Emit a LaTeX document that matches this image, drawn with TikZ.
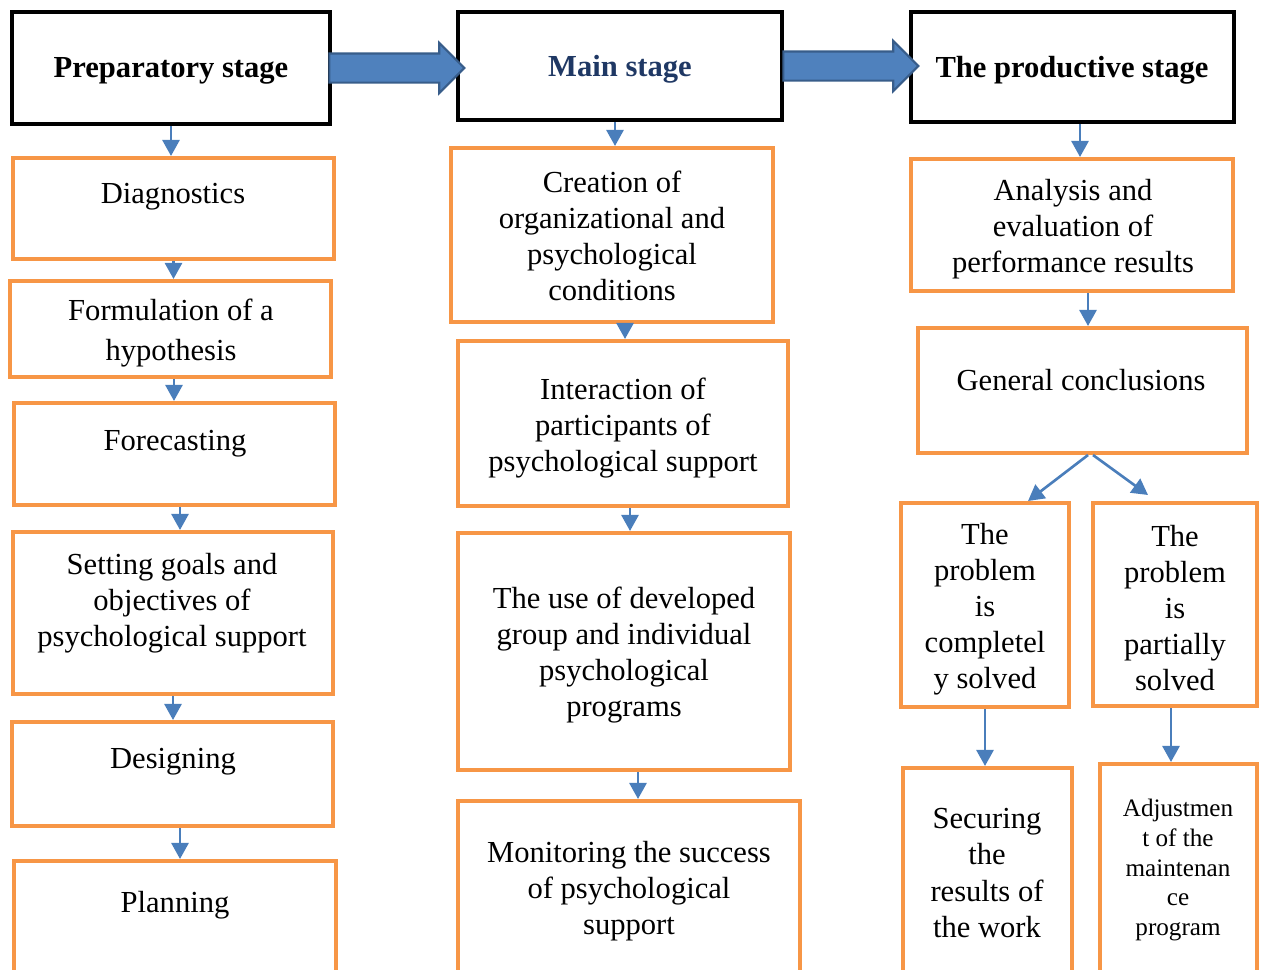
\documentclass[tikz,border=0pt]{standalone}
\usepackage{fontspec}
\setmainfont{Liberation Serif}
\usetikzlibrary{arrows.meta,shapes.arrows}
\definecolor{boxorange}{HTML}{F79646}
\definecolor{flowblue}{HTML}{4A7EBB}
\definecolor{bigblue}{HTML}{4F81BD}
\definecolor{bigedge}{HTML}{385D8A}
\definecolor{titleblue}{HTML}{1F3864}
\tikzset{
  stagebox/.style={draw=black, line width=2.6pt, rectangle, inner sep=0pt},
  obox/.style={draw=boxorange, line width=2.3pt, rectangle, inner sep=0pt},
  txt/.style={align=center, inner sep=0pt, font=\fontsize{17.4}{20.5}\selectfont},
  smalltxt/.style={align=center, inner sep=0pt, font=\fontsize{14.3}{17}\selectfont},
  title/.style={inner sep=0pt, font=\fontsize{17.4}{20.5}\selectfont\bfseries},
  flow/.style={draw=flowblue, line width=1.5pt, -{Triangle[length=3.2mm,width=3.4mm]}},
  bigarrow/.style={single arrow, draw=bigedge, fill=bigblue, line width=1.2pt,
    inner xsep=0pt, inner ysep=2.7mm, single arrow head extend=2.1mm, minimum height=27mm}
}
\begin{document}
\begin{tikzpicture}[x=0.2mm,y=-0.2mm]
\useasboundingbox (0,0) rectangle (1262,969);
%% stage headers
\node[stagebox, minimum width=63.6mm, minimum height=22.4mm] (prep) at (171,68) {};
\node[stagebox, minimum width=64.8mm, minimum height=21.6mm] (main) at (620,66) {};
\node[stagebox, minimum width=64.6mm, minimum height=22mm] (prod) at (1072.5,67) {};
\node[title] (prep-t) at (171,71) {Preparatory stage};
\node[title, text=titleblue] (main-t) at (620,69) {Main stage};
\node[title] (prod-t) at (1072,70) {The productive stage};
\node[bigarrow, anchor=tail] (go1) at ([xshift=-0.8mm]prep.east) {};
\node[bigarrow, anchor=tail] (go2) at ([xshift=-0.4mm]main.east) {};
%% preparatory stage
\node[obox, minimum width=64.2mm, minimum height=20.2mm] (diag) at (173.5,208.5) {};
\node[obox, minimum width=64.2mm, minimum height=19.2mm] (form) at (170.5,329) {};
\node[obox, minimum width=64.2mm, minimum height=20.4mm] (fore) at (174.5,454) {};
\node[obox, minimum width=64mm, minimum height=32.4mm] (goals) at (173,613) {};
\node[obox, minimum width=64.2mm, minimum height=20.8mm] (design) at (172.5,774) {};
\node[obox, minimum width=64.4mm, minimum height=25.8mm] (plan) at (175,925.5) {};
\node[txt] (diag-t) at (173,197) {Diagnostics};
\node[txt] (form-t) at (171,333) {Formulation of a\\[2pt] hypothesis};
\node[txt] (fore-t) at (175,444) {Forecasting};
\node[txt] (goals-t) at (172,603) {Setting goals and\\ objectives of\\ psychological support};
\node[txt] (design-t) at (173,762) {Designing};
\node[txt] (plan-t) at (175,905) {Planning};
%% main stage
\node[obox, minimum width=64.4mm, minimum height=34.8mm] (creat) at (612,235) {};
\node[obox, minimum width=66mm, minimum height=33mm] (inter) at (623,423.5) {};
\node[obox, minimum width=66.4mm, minimum height=47.4mm] (use) at (624,651.5) {};
\node[obox, minimum width=68.4mm, minimum height=37.8mm] (mon) at (629,895.5) {};
\node[txt] (creat-t) at (612,236) {Creation of\\ organizational and\\ psychological\\ conditions};
\node[txt] (inter-t) at (623,428) {Interaction of\\ participants of\\ psychological support};
\node[txt] (use-t) at (624,655) {The use of developed\\ group and individual\\ psychological\\ programs};
\node[txt] (mon-t) at (629,891) {Monitoring the success\\ of psychological\\ support};
%% productive stage
\node[obox, minimum width=64.4mm, minimum height=26.4mm] (anal) at (1072,225) {};
\node[obox, minimum width=65.8mm, minimum height=25mm] (gen) at (1082.5,390.5) {};
\node[obox, minimum width=33.6mm, minimum height=40.8mm] (comp) at (985,605) {};
\node[obox, minimum width=32.8mm, minimum height=40.6mm] (part) at (1175,604.5) {};
\node[obox, minimum width=33.8mm, minimum height=44.4mm] (secur) at (987.5,879) {};
\node[obox, minimum width=31.4mm, minimum height=45.2mm] (adj) at (1178.5,877) {};
\node[txt] (anal-t) at (1073,229) {Analysis and\\ evaluation of\\ performance results};
\node[txt] (gen-t) at (1081,380) {General conclusions};
\node[txt] (comp-t) at (985,609) {The\\ problem\\ is\\ completel\\ y solved};
\node[txt] (part-t) at (1175,608) {The\\ problem\\ is\\ partially\\ solved};
\node[txt] (secur-t) at (987,873) {Securing\\ the\\ results of\\ the work};
\node[smalltxt] (adj-t) at (1178,870) {Adjustmen\\ t of the\\ maintenan\\ ce\\ program};
%% connectors
\draw[flow] (prep.south) -- (prep.south |- diag.north);
\draw[flow] (diag.south) -- (diag.south |- form.north);
\draw[flow] ([xshift=0.7mm]form.south) -- ([xshift=0.7mm]form.south |- fore.north);
\draw[flow] ([xshift=1.1mm]fore.south) -- ([xshift=1.1mm]fore.south |- goals.north);
\draw[flow] (goals.south) -- (goals.south |- design.north);
\draw[flow] ([xshift=1.5mm]design.south) -- ([xshift=1.5mm]design.south |- plan.north);
\draw[flow] ([xshift=-1mm]main.south) -- ([xshift=-1mm]main.south |- creat.north);
\draw[flow] ([xshift=2.6mm]creat.south) -- ([xshift=2.6mm]creat.south |- inter.north);
\draw[flow] ([xshift=1.4mm]inter.south) -- ([xshift=1.4mm]inter.south |- use.north);
\draw[flow] ([xshift=2.8mm]use.south) -- ([xshift=2.8mm]use.south |- mon.north);
\draw[flow] ([xshift=1.5mm]prod.south) -- ([xshift=1.5mm]prod.south |- anal.north);
\draw[flow] ([xshift=3.2mm]anal.south) -- ([xshift=3.2mm]anal.south |- gen.north);
\draw[flow] ([xshift=1.1mm]gen.south) -- ([xshift=8.6mm]comp.north);
\draw[flow] ([xshift=2.1mm]gen.south) -- ([xshift=-5.4mm,yshift=1.2mm]part.north);
\draw[flow] (comp.south) -- (comp.south |- secur.north);
\draw[flow] ([xshift=-0.8mm]part.south) -- ([xshift=-0.8mm]part.south |- adj.north);
\end{tikzpicture}
\end{document}
